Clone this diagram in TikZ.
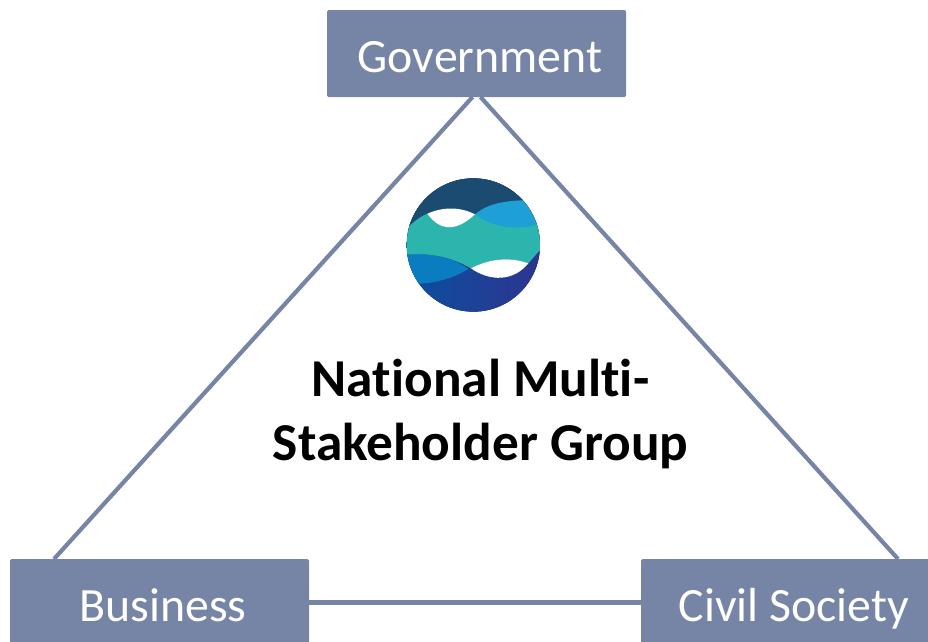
\documentclass[tikz,border=0pt]{standalone}
\usepackage{fontspec}
\setmainfont[Ligatures=NoCommon]{Carlito}
\definecolor{slate}{HTML}{7685A5}
\definecolor{lnavy}{HTML}{1B4B70}
\definecolor{lsky}{HTML}{1E9FD5}
\definecolor{lteal}{HTML}{2BB5AC}
\definecolor{lblue}{HTML}{0A7DC0}
\definecolor{ldeepa}{HTML}{0B4F9E}
\definecolor{ldeepb}{HTML}{2D3590}
\tikzset{
  box/.style={fill=slate,rounded corners=1.5pt,minimum width=299pt,minimum height=87pt,inner sep=0pt,outer sep=0pt,text=white,font=\fontsize{47.8}{54}\selectfont},
  edge/.style={draw=slate,line width=4.2pt},
  title/.style={font=\fontsize{53.3}{64}\selectfont\bfseries,align=center,text=black,inner sep=0pt}
}
\newcommand{\lbl}[1]{\hspace*{7pt}\raisebox{-18.5pt}[0pt][0pt]{#1}}
\begin{document}
\begin{tikzpicture}[x=1pt,y=-1pt]
\useasboundingbox (0,0) rectangle (928,641);
\clip (0,0) rectangle (928,641);
\node[box] (gov) at (476.5,53.5) {\lbl{Government}};
\node[box] (biz) at (159.5,602.5) {\lbl{Business}};
\node[box] (civ) at (790.5,602.5) {\lbl{Civil Society}};
\draw[edge] ([xshift=-4pt]gov.south) -- ([xshift=44pt]biz.north west);
\draw[edge] ([xshift=4pt]gov.south) -- ([xshift=257pt]civ.north west);
\draw[edge] (biz.east) -- (civ.west);
\node[title] (mid) at (480.5,414) {National Multi-\\Stakeholder Group};
\begin{scope}[shift={(390,165)},x=0.33333pt,y=-0.33333pt]
\clip (250,240) circle[radius=200];
\fill[left color=ldeepa,middle color=ldeepa,right color=ldeepb] (50,40) rectangle (450,440);
\fill[lnavy] (50,40) rectangle (450,200);
\fill[lsky] (255,148) .. controls (300,110) and (360,105) .. (450,105) -- (450,220) -- (255,220) -- cycle;
\fill[lblue] (50,269) .. controls (130,262) and (190,280) .. (235,312) .. controls (190,340) and (140,352) .. (95,356) -- (50,356) -- cycle;
\fill[lteal] (50,192) .. controls (70,170) and (90,155) .. (112,146) .. controls (150,200) and (200,200) .. (255,148) .. controls (310,190) and (380,195) .. (450,178) -- (450,256) .. controls (435,270) and (425,285) .. (415,295) .. controls (360,275) and (300,280) .. (243,310) .. controls (190,280) and (130,262) .. (50,269) -- cycle;
\fill[white] (112,146) .. controls (160,125) and (210,125) .. (255,148) .. controls (200,200) and (150,200) .. (112,146) -- cycle;
\fill[white] (243,310) .. controls (300,280) and (360,275) .. (415,295) .. controls (370,350) and (300,350) .. (243,310) -- cycle;
\end{scope}
\end{tikzpicture}
\end{document}
